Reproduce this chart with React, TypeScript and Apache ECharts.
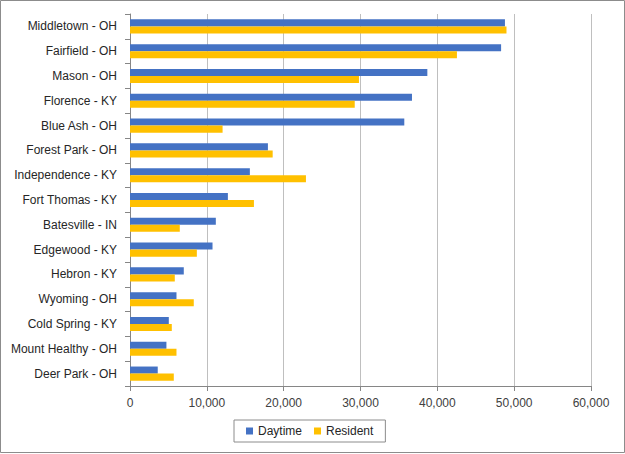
import React, { useEffect, useRef } from "react";
import * as echarts from "echarts";

const categories = [
  "Middletown - OH",
  "Fairfield - OH",
  "Mason - OH",
  "Florence - KY",
  "Blue Ash - OH",
  "Forest Park - OH",
  "Independence - KY",
  "Fort Thomas - KY",
  "Batesville - IN",
  "Edgewood - KY",
  "Hebron - KY",
  "Wyoming - OH",
  "Cold Spring - KY",
  "Mount Healthy - OH",
  "Deer Park - OH",
];

const daytime = [48800, 48300, 38700, 36700, 35700, 17950, 15600, 12740, 11170, 10740, 7000, 6050, 5050, 4740, 3610];
const resident = [49000, 42550, 29800, 29250, 12050, 18570, 22900, 16130, 6480, 8700, 5830, 8300, 5440, 6050, 5700];

const seriesNames = ["Daytime", "Resident"];
const colors = ["#4472C4", "#FFC000"];

export default function App() {
  const ref = useRef<HTMLDivElement>(null);
  useEffect(() => {
    document.body.style.margin = "0";
    const chart = echarts.init(ref.current!, null, { renderer: "svg" });
    const font = "Liberation Sans";
    chart.setOption({
      animation: false,
      backgroundColor: "#fff",
      textStyle: { fontFamily: font },
      grid: { left: 130, right: 34, top: 14, bottom: 68, containLabel: false },
      legend: {
        data: seriesNames,
        left: 234,
        top: 420,
        icon: "rect",
        itemWidth: 7,
        itemHeight: 7,
        itemGap: 12,
        padding: [5, 12, 5, 12],
        borderColor: "#8c8c8c",
        borderWidth: 1,
        textStyle: { fontSize: 12, color: "#262626", fontFamily: font },
      },
      xAxis: {
        type: "value",
        min: 0,
        max: 60000,
        interval: 10000,
        axisLine: { show: true, lineStyle: { color: "#868686" } },
        axisTick: { show: true, length: 5, lineStyle: { color: "#868686" } },
        splitLine: { show: true, lineStyle: { color: "#BFBFBF" } },
        axisLabel: {
          fontSize: 12,
          color: "#404040",
          margin: 11,
          fontFamily: font,
          formatter: (v: number) => v.toLocaleString("en-US"),
        },
      },
      yAxis: {
        type: "category",
        data: categories,
        inverse: true,
        axisLine: { show: true, lineStyle: { color: "#868686" } },
        axisTick: { show: true, length: 5, lineStyle: { color: "#868686" } },
        axisLabel: { fontSize: 12, color: "#262626", margin: 13, fontFamily: font },
      },
      series: [
        {
          name: seriesNames[0],
          type: "bar",
          data: daytime,
          itemStyle: { color: colors[0] },
          barGap: "0%",
          barCategoryGap: "43%",
        },
        {
          name: seriesNames[1],
          type: "bar",
          data: resident,
          itemStyle: { color: colors[1] },
          barGap: "0%",
          barCategoryGap: "43%",
        },
      ],
      graphic: [
        {
          type: "rect",
          shape: { x: 0.5, y: 0.5, width: 624, height: 452 },
          style: { fill: "none", stroke: "#8c8c8c", lineWidth: 1 },
          silent: true,
        },
      ],
    });
    return () => chart.dispose();
  }, []);
  return <div ref={ref} style={{ width: 625, height: 454 }} />;
}
